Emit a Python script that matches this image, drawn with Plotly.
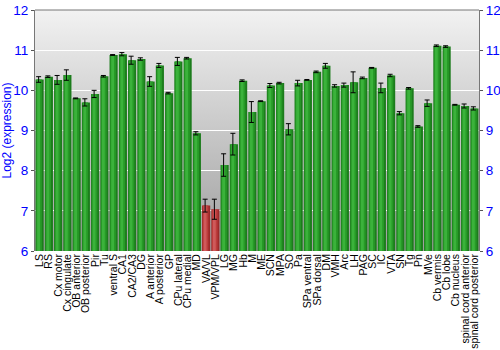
import plotly.graph_objects as go
import base64

categories = ["LS", "RS", "Cx motor", "Cx cingulate", "OB anterior", "OB posterior", "Pir", "Tu",
              "ventral S", "CA1", "CA2/CA3", "DG", "A anterior", "A posterior", "GP", "CPu lateral",
              "CPu medial", "MD", "VA/VL", "VPM/VPL", "LG", "MG", "Hb", "M", "ME", "SCN", "MPA",
              "SO", "Pa", "SPa ventral", "SPa dorsal", "DM", "VMH", "Arc", "LH", "PAG", "SC", "IC",
              "VTA", "SN", "Tg", "Pn", "MVe", "Cb vermis", "Cb lobe", "Cb nucleus",
              "spinal cord anterior", "spinal cord posterior"]
values = [10.27, 10.34, 10.26, 10.38, 9.80, 9.70, 9.91, 10.35,
          10.88, 10.90, 10.75, 10.78, 10.22, 10.62, 9.93, 10.72,
          10.80, 8.93, 7.13, 7.04, 8.14, 8.66, 10.24, 9.46, 9.73, 10.12, 10.18,
          9.03, 10.18, 10.26, 10.46, 10.61, 10.11, 10.13, 10.20, 10.31, 10.56, 10.06,
          10.37, 9.43, 10.05, 9.10, 9.68, 11.11, 11.09, 9.64,
          9.61, 9.55]
errors = [0.07, 0.02, 0.11, 0.13, 0.01, 0.09, 0.09, 0.02,
          0.01, 0.04, 0.10, 0.03, 0.12, 0.05, 0.02, 0.10,
          0.02, 0.04, 0.16, 0.25, 0.28, 0.27, 0.02, 0.26, 0.01, 0.05, 0.02,
          0.14, 0.07, 0.01, 0.02, 0.06, 0.03, 0.05, 0.26, 0.02, 0.01, 0.12,
          0.03, 0.04, 0.02, 0.02, 0.08, 0.02, 0.02, 0.01,
          0.05, 0.04]
highlight = ["VA/VL", "VPM/VPL"]
yticks = [6, 7, 8, 9, 10, 11, 12]

x = list(range(len(categories)))
is_red = [c in highlight for c in categories]
base_col = ["#9c2a2a" if r else "#1c7c1c" for r in is_red]
mid_col = ["#bd3c3c" if r else "#279a27" for r in is_red]
hi_col = ["#cf5a5a" if r else "#3bb23b" for r in is_red]

fig = go.Figure()
fig.add_trace(go.Bar(x=x, y=values, width=0.88, offset=-0.44, marker=dict(color=base_col, line=dict(width=0)),
                     showlegend=False))
fig.add_trace(go.Bar(x=x, y=values, width=0.6, offset=-0.36, marker=dict(color=mid_col, line=dict(width=0)),
                     showlegend=False))
fig.add_trace(go.Bar(x=x, y=values, width=0.3, offset=-0.26, marker=dict(color=hi_col, line=dict(width=0)),
                     showlegend=False,
                     error_y=dict(type="data", array=errors, color="black", thickness=1, width=2.5)))
fig.add_trace(go.Scatter(x=[0], y=[6], yaxis="y2", mode="markers", marker=dict(opacity=0),
                         showlegend=False, hoverinfo="skip"))

svg = ('<svg xmlns="http://www.w3.org/2000/svg" width="10" height="100" preserveAspectRatio="none">'
       '<defs><linearGradient id="g" x1="0" y1="0" x2="0" y2="1">'
       '<stop offset="0" stop-color="#f2f2f2"/><stop offset="1" stop-color="#9e9e9e"/>'
       '</linearGradient></defs><rect width="10" height="100" fill="url(#g)"/></svg>')
src = "data:image/svg+xml;base64," + base64.b64encode(svg.encode()).decode()

tickfont = dict(color="#0000ff", size=13.5, family="Liberation Sans")
fig.update_layout(
    width=500, height=350,
    margin=dict(l=35, r=21, t=10, b=99),
    paper_bgcolor="white", plot_bgcolor="rgba(0,0,0,0)",
    barmode="overlay", bargap=0.1,
    images=[dict(source=src, xref="paper", yref="paper", x=0, y=1, sizex=1, sizey=1,
                 sizing="stretch", layer="below", xanchor="left", yanchor="top")],
    xaxis=dict(tickmode="array", tickvals=x, ticktext=categories, tickangle=-90,
               range=[-0.5, len(categories) - 0.5], showgrid=False, ticks="", automargin=False,
               tickfont=dict(color="black", size=10.5, family="Liberation Sans"),
               showline=False, zeroline=False),
    yaxis=dict(range=[6, 12], tickvals=yticks, showgrid=True, gridcolor="white", gridwidth=1,
               ticks="outside", ticklen=3, tickcolor="#555", showline=True, linecolor="#777",
               linewidth=1, mirror=False, tickfont=tickfont, zeroline=False, automargin=False,
               title=dict(text="Log2 (expression)", font=dict(color="#0000ff", size=12,
                                                               family="Liberation Sans"), standoff=2)),
    yaxis2=dict(range=[6, 12], tickvals=yticks, overlaying="y", side="right", showgrid=False,
                ticks="outside", ticklen=3, tickcolor="#555", showline=True, linecolor="#777",
                linewidth=1, tickfont=tickfont, zeroline=False, automargin=False),
    shapes=[dict(type="line", xref="paper", yref="paper", x0=0, x1=1, y0=1, y1=1,
                 line=dict(color="#777", width=1))],
)

fig.write_html("out.html")
